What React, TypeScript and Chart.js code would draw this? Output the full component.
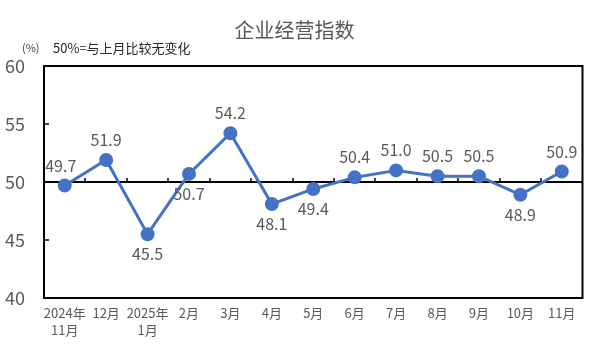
import React, { useEffect, useRef } from "react";
import { Chart, registerables } from "chart.js";

Chart.register(...registerables);

const categories: string[][] = [
  ["2024年", "11月"], ["12月"], ["2025年", "1月"], ["2月"], ["3月"], ["4月"], ["5月"],
  ["6月"], ["7月"], ["8月"], ["9月"], ["10月"], ["11月"],
];
const values: number[] = [49.7, 51.9, 45.5, 50.7, 54.2, 48.1, 49.4, 50.4, 51.0, 50.5, 50.5, 48.9, 50.9];
const labelPlacement: string[] = ["above", "above", "below", "below", "above", "below", "below", "above", "above", "above", "above", "below", "above"];
const yMin = 40;
const yMax = 60;
const yStep = 5;
const baseline = 50;
const titleText = "企业经营指数";
const unitText = "(%)";
const noteText = "50%=与上月比较无变化";

const FONT = '"Noto Sans CJK SC", "Noto Sans", sans-serif';
const GRAY = "#595959";
const BLUE = "#4472C4";

const framePlugin = {
  id: "frame",
  beforeDatasetsDraw(chart: any) {
    const { ctx, chartArea, scales } = chart;
    const y = scales.y;
    const x = scales.x;
    ctx.save();
    ctx.strokeStyle = "#000";
    ctx.lineWidth = 2;
    const yb = Math.round(y.getPixelForValue(baseline));
    ctx.beginPath();
    ctx.moveTo(chartArea.left, yb);
    ctx.lineTo(chartArea.right, yb);
    ctx.stroke();
    ctx.lineWidth = 1.5;
    for (let i = 1; i < categories.length; i++) {
      const px = Math.round((x.getPixelForValue(i - 1) + x.getPixelForValue(i)) / 2);
      ctx.beginPath();
      ctx.moveTo(px, yb);
      ctx.lineTo(px, yb - 4);
      ctx.stroke();
    }
    for (let v = yMin + yStep; v < yMax; v += yStep) {
      const py = Math.round(y.getPixelForValue(v));
      ctx.beginPath();
      ctx.moveTo(chartArea.left, py);
      ctx.lineTo(chartArea.left + 5, py);
      ctx.stroke();
    }
    ctx.lineWidth = 2;
    ctx.strokeRect(chartArea.left, chartArea.top, chartArea.right - chartArea.left, chartArea.bottom - chartArea.top);
    ctx.restore();
  },
  afterDatasetsDraw(chart: any) {
    const { ctx } = chart;
    const meta = chart.getDatasetMeta(0);
    ctx.save();
    ctx.font = `16px ${FONT}`;
    ctx.fillStyle = GRAY;
    ctx.textAlign = "center";
    ctx.textBaseline = "middle";
    meta.data.forEach((pt: any, i: number) => {
      const dy = labelPlacement[i] === "above" ? -20 : 20;
      const dx = i === 0 ? -4 : 0;
      ctx.fillText(values[i].toFixed(1), pt.x + dx, pt.y + dy);
    });
    ctx.font = `20px ${FONT}`;
    ctx.fillStyle = GRAY;
    ctx.fillText(titleText, chart.width / 2 - 1, 30);
    ctx.textAlign = "left";
    ctx.font = `11px ${FONT}`;
    ctx.fillStyle = "#404040";
    ctx.fillText(unitText, 22, 48);
    ctx.font = `13px ${FONT}`;
    ctx.fillStyle = "#262626";
    ctx.fillText(noteText, 53, 48);
    ctx.restore();
  },
};

export default function App() {
  const ref = useRef<HTMLCanvasElement>(null);
  useEffect(() => {
    document.body.style.margin = "0";
    Chart.defaults.font.family = FONT;
    const chart = new Chart(ref.current as HTMLCanvasElement, {
      type: "line",
      data: {
        labels: categories,
        datasets: [
          {
            data: values,
            borderColor: BLUE,
            backgroundColor: BLUE,
            borderWidth: 3,
            pointRadius: 5.5,
            pointHoverRadius: 5.5,
            pointBackgroundColor: BLUE,
            pointBorderColor: BLUE,
            tension: 0,
          },
        ],
      },
      options: {
        responsive: false,
        animation: false,
        layout: { padding: { top: 66, right: 6, left: 0, bottom: 0 } },
        plugins: { legend: { display: false }, tooltip: { enabled: false }, title: { display: false } },
        scales: {
          x: {
            offset: true,
            grid: { display: false, drawTicks: false },
            border: { display: false },
            ticks: {
              color: GRAY,
              font: { size: 13, lineHeight: 1.3 },
              padding: 7,
              maxRotation: 0,
              autoSkip: false,
            },
            afterFit: (s: any) => {
              s.height = 56;
            },
          },
          y: {
            min: yMin,
            max: yMax,
            grid: { display: false, drawTicks: false },
            border: { display: false },
            ticks: { stepSize: yStep, color: GRAY, font: { size: 18 }, padding: 19 },
            afterFit: (s: any) => {
              s.width = 44;
            },
          },
        },
      },
      plugins: [framePlugin],
    });
    return () => chart.destroy();
  }, []);
  return <canvas ref={ref} width={591} height={354} />;
}
